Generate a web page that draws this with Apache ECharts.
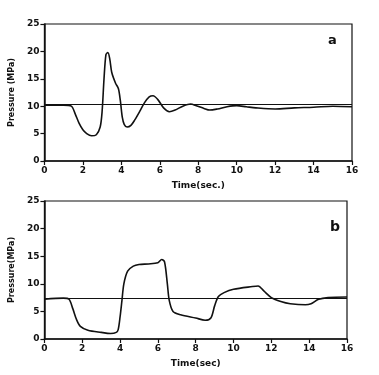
<!DOCTYPE html>
<html>
<head>
<meta charset="utf-8">
<script src="https://cdn.jsdelivr.net/npm/echarts@6/dist/echarts.min.js"></script>
<style>
  html, body { margin: 0; padding: 0; background: #fff; }
  #chart-container { width: 379px; height: 375px; }
</style>
</head>
<body>
<div id="chart-container"></div>
<script>
// panel a: pressure trace [time (sec), pressure (MPa)]
const timeA = [0, 1.0, 1.4, 1.6, 1.8, 2.0, 2.2, 2.45, 2.7, 2.9, 3.0, 3.1, 3.2, 3.3, 3.4, 3.5, 3.7, 3.85, 3.95, 4.05, 4.15, 4.3, 4.5, 4.7, 4.95, 5.2, 5.45, 5.65, 5.9, 6.2, 6.5, 6.8, 7.2, 7.6, 7.9, 8.3, 8.6, 9.0, 9.5, 10.0, 10.5, 11.0, 12.0, 13.0, 14.0, 15.0, 16.0];
const pressA = [10.2, 10.2, 10.0, 8.6, 6.9, 5.7, 5.0, 4.6, 4.8, 6.2, 9.0, 15.0, 19.4, 19.8, 18.6, 16.2, 14.2, 13.2, 11.0, 8.0, 6.7, 6.2, 6.5, 7.5, 9.0, 10.6, 11.7, 11.9, 11.2, 9.7, 9.0, 9.3, 10.0, 10.4, 10.1, 9.6, 9.3, 9.5, 9.9, 10.1, 9.9, 9.7, 9.5, 9.7, 9.8, 10.0, 9.9];
const baseA = 10.3;

// panel b: pressure trace [time (sec), pressure (MPa)]
const timeB = [0, 1.0, 1.3, 1.5, 1.7, 1.9, 2.3, 3.0, 3.5, 3.8, 3.9, 4.0, 4.1, 4.2, 4.4, 4.7, 5.0, 5.5, 6.0, 6.2, 6.35, 6.5, 6.6, 6.8, 7.2, 8.0, 8.5, 8.8, 9.0, 9.2, 9.5, 10.0, 11.0, 11.3, 11.6, 12.0, 12.5, 13.0, 13.8, 14.1, 14.5, 15.0, 16.0];
const pressB = [7.2, 7.4, 7.2, 5.5, 3.5, 2.3, 1.6, 1.2, 1.0, 1.2, 1.7, 4.0, 7.0, 10.0, 12.3, 13.2, 13.5, 13.6, 13.8, 14.4, 14.0, 10.0, 7.0, 5.0, 4.4, 3.8, 3.4, 3.8, 6.0, 7.7, 8.4, 9.0, 9.5, 9.6, 8.7, 7.5, 6.8, 6.4, 6.2, 6.4, 7.2, 7.5, 7.6];
const baseB = 7.4;

const xTicks = [0, 2, 4, 6, 8, 10, 12, 14, 16];
const yTicks = [0, 5, 10, 15, 20, 25];

function zip(xs, ys) {
  return xs.map(function (x, i) { return [x, ys[i]]; });
}

const font = 'DejaVu Sans';
const labelStyle = { color: '#111', fontSize: 9, fontWeight: 'bold', fontFamily: font };

function xAxis(gridIndex, name) {
  return {
    type: 'value', gridIndex: gridIndex, min: 0, max: 16, interval: 2,
    name: name, nameLocation: 'middle', nameGap: 20,
    nameTextStyle: labelStyle,
    axisLine: { lineStyle: { color: '#111', width: 1.5 } },
    axisTick: { length: 4, lineStyle: { color: '#111', width: 1.2 } },
    axisLabel: Object.assign({ margin: 5 }, labelStyle),
    splitLine: { show: false }
  };
}

function yAxis(gridIndex, name) {
  return {
    type: 'value', gridIndex: gridIndex, min: 0, max: 25, interval: 5,
    name: name, nameLocation: 'middle', nameGap: 20,
    nameTextStyle: Object.assign({}, labelStyle, { fontSize: 8 }),
    axisLine: { show: true, lineStyle: { color: '#111', width: 1.5 } },
    axisTick: { show: true, length: 4, lineStyle: { color: '#111', width: 1.2 } },
    axisLabel: Object.assign({ margin: 5 }, labelStyle),
    splitLine: { show: false }
  };
}

function trace(idx, data, base) {
  return {
    type: 'line', xAxisIndex: idx, yAxisIndex: idx,
    data: data, smooth: 0.3, showSymbol: false,
    lineStyle: { color: '#111', width: 1.6 },
    markLine: {
      silent: true, symbol: 'none', label: { show: false },
      lineStyle: { color: '#111', width: 1.2, type: 'solid' },
      data: [{ yAxis: base }]
    },
    animation: false
  };
}

const myChart = echarts.init(document.getElementById('chart-container'), null, { renderer: 'canvas' });
const option = {
  backgroundColor: '#fff',
  animation: false,
  grid: [
    { left: 43, top: 24, width: 309, height: 137, show: true, borderColor: '#111', borderWidth: 1.2, backgroundColor: 'transparent' },
    { left: 43, top: 201, width: 304, height: 138, show: true, borderColor: '#111', borderWidth: 1.2, backgroundColor: 'transparent' }
  ],
  xAxis: [xAxis(0, 'Time(sec.)'), xAxis(1, 'Time(sec)')],
  yAxis: [yAxis(0, 'Pressure (MPa)'), yAxis(1, 'Pressure(MPa)')],
  series: [
    trace(0, zip(timeA, pressA), baseA),
    trace(1, zip(timeB, pressB), baseB)
  ],
  graphic: [
    { type: 'text', left: 328, top: 34, style: { text: 'a', fontSize: 13, fontWeight: 'bold', fontFamily: font, fill: '#111' } },
    { type: 'text', left: 330, top: 220, style: { text: 'b', fontSize: 14, fontWeight: 'bold', fontFamily: font, fill: '#111' } }
  ]
};
myChart.setOption(option);
</script>
</body>
</html>
